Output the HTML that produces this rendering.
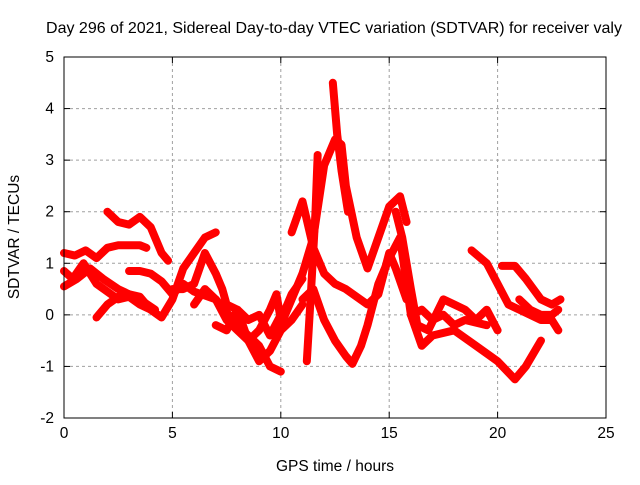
<!DOCTYPE html>
<html><head><meta charset="utf-8"><style>
body{margin:0;background:#fff}
svg text{font-family:"Liberation Sans",sans-serif;font-size:15.5px;fill:#000}
</style></head><body>
<svg width="640" height="480">
<text x="334" y="33" text-anchor="middle" style="font-size:16px">Day 296 of 2021, Sidereal Day-to-day VTEC variation (SDTVAR) for receiver valy</text>
<g id="grid"></g>
<g id="axes"></g>
<g id="series"></g>
<rect x="64" y="57" width="542" height="361" fill="none" stroke="#000" stroke-width="1"/>
<text x="335" y="471" text-anchor="middle">GPS time / hours</text>
<text transform="translate(19,237) rotate(-90)" text-anchor="middle">SDTVAR / TECUs</text>
</svg>
<script>
const xTicks=[0,5,10,15,20,25];
const yTicks=[-2,-1,0,1,2,3,4,5];
const tracks=[
[[0,1.2],[0.5,1.15],[1,1.25],[1.5,1.1],[2,1.3],[2.5,1.35],[3,1.35],[3.5,1.35],[3.8,1.3]],
[[0,0.85],[0.4,0.7],[0.9,1.0],[1.5,0.6],[2,0.45],[2.5,0.3],[3,0.35],[3.5,0.2],[4,0.1]],
[[0,0.55],[0.6,0.7],[1.2,0.9],[1.8,0.7],[2.5,0.5],[3.5,0.3],[4.2,0.1]],
[[1.5,-0.05],[2,0.2],[2.5,0.35],[3,0.4],[3.5,0.35],[4,0.1],[4.5,-0.05],[5,0.3],[5.5,0.9],[6,1.2],[6.5,1.5],[7,1.6]],
[[2,2.0],[2.5,1.8],[3,1.75],[3.5,1.9],[4,1.7],[4.5,1.2],[4.8,1.05]],
[[3,0.85],[3.5,0.85],[4,0.8],[4.5,0.65],[5,0.4],[5.5,0.6],[6,0.45],[7,0.3],[8,-0.2],[9,-0.6],[9.5,-1.0],[10,-1.1]],
[[5,0.5],[5.5,0.5],[6,0.6],[6.5,1.2],[7,0.8],[7.3,0.5],[7.5,0.2],[8,0.1],[8.5,-0.1],[9,0],[9.5,-0.4],[10,0]],
[[6,0.2],[6.5,0.5],[7,0.3],[7.5,-0.1],[8,-0.3],[8.5,-0.5],[9,-0.3],[9.5,0.1],[9.8,0.4],[10,-0.1],[10.5,0.4],[11,0.7]],
[[7,-0.2],[7.5,-0.3],[8,0.1],[8.5,-0.5],[9,-0.9],[9.5,-0.7],[10,-0.3],[10.5,-0.1],[11,0.2]],
[[10,-0.2],[10.5,0.3],[11,0.8],[11.5,1.5],[12,2.9],[12.5,3.4],[12.8,3.3],[13,2.5],[13.5,1.5],[14,0.9],[14.5,1.5],[15,2.1],[15.5,2.3],[15.8,1.8]],
[[11.2,-0.9],[11.4,0.5],[11.6,2.0],[11.7,3.1]],
[[12.4,4.5],[12.6,3.5],[12.8,2.8],[13.1,2.0]],
[[10.5,1.6],[11,2.2],[11.5,1.3],[12,0.8],[12.5,0.6],[13,0.5],[14,0.2],[14.5,0.4],[15,1.2],[15.3,0.9],[15.8,0.3]],
[[11,0.3],[11.5,0.5],[12,-0.1],[12.5,-0.5],[13,-0.8],[13.3,-0.95],[13.7,-0.6],[14,-0.2],[14.5,0.6],[15,1.1],[15.5,1.5],[16,0],[16.5,-0.6],[17,-0.4],[18,-0.3],[19,-0.6],[20,-0.9],[20.8,-1.25],[21.3,-1.0],[22,-0.5]],
[[15.3,2.0],[15.6,1.5],[16,0.5],[16.3,-0.2],[16.8,-0.3],[17.5,0.3],[18,0.2],[18.5,0.1],[19,-0.1],[19.5,0.1],[20,-0.3]],
[[16,0],[16.5,0.1],[17,-0.1],[17.5,0],[18,-0.2],[18.5,-0.1],[19,-0.15],[19.5,-0.2]],
[[18.8,1.25],[19.5,1.0],[20,0.6],[20.5,0.2],[21,0.1],[22,-0.1],[22.5,-0.1],[22.8,-0.3]],
[[20.2,0.95],[20.8,0.95],[21.3,0.7],[22,0.3],[22.5,0.2],[22.9,0.3]],
[[21,0.3],[21.5,0.1],[22,0],[22.5,0],[22.8,0.1]]
];
const NS='http://www.w3.org/2000/svg';
const X0=64,X1=606,Y0=418,Y1=57;
function xs(h){return X0+(h-0)/(25-0)*(X1-X0);}
function ys(v){return Y0-(v+2)/(5+2)*(Y0-Y1);}
function mk(t,a,p){const e=document.createElementNS(NS,t);for(const k in a)e.setAttribute(k,a[k]);p.appendChild(e);return e;}
const grid=document.getElementById('grid'),axes=document.getElementById('axes'),ser=document.getElementById('series');
xTicks.forEach(t=>{
  const x=xs(t);
  if(t>0&&t<25){const l=mk('line',{x1:x,x2:x,y1:Y1,y2:Y0,stroke:'#a0a0a0','stroke-dasharray':'3,3'},grid);
  
  }
  mk('line',{x1:x,x2:x,y1:Y0,y2:Y0-6,stroke:'#000'},axes);
  mk('line',{x1:x,x2:x,y1:Y1,y2:Y1+6,stroke:'#000'},axes);
  const tx=mk('text',{x:x,y:Y0+20,'text-anchor':'middle'},axes);tx.textContent=t;
  
  
});
yTicks.forEach(t=>{
  const y=ys(t);
  if(t>-2&&t<5){const l=mk('line',{x1:X0,x2:X1,y1:y,y2:y,stroke:'#a0a0a0','stroke-dasharray':'3,3'},grid);
  
  }
  mk('line',{x1:X0,x2:X0+6,y1:y,y2:y,stroke:'#000'},axes);
  mk('line',{x1:X1,x2:X1-6,y1:y,y2:y,stroke:'#000'},axes);
  const tx=mk('text',{x:X0-10,y:y+5,'text-anchor':'end'},axes);tx.textContent=t;
  
  
});
tracks.forEach(tr=>{
  const p=mk('polyline',{points:tr.map(d=>xs(d[0])+','+ys(d[1])).join(' '),fill:'none',stroke:'#ff0000','stroke-width':8,'stroke-linejoin':'round','stroke-linecap':'round'},ser);
  
  
});
</script>
</body></html>
